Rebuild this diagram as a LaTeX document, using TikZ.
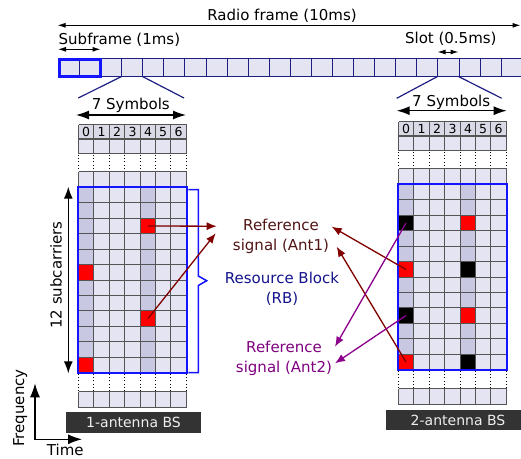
\documentclass[tikz,border=0pt]{standalone}
\usepackage{fontspec}
\setmainfont{DejaVu Sans}
\usetikzlibrary{arrows.meta,calc}
\definecolor{navy}{RGB}{30,30,130}
\definecolor{rbblue}{RGB}{20,20,255}
\definecolor{cellfill}{RGB}{228,228,242}
\definecolor{hdrfill}{RGB}{218,218,230}
\definecolor{darkcol}{RGB}{200,200,226}
\definecolor{gridgray}{RGB}{85,85,85}
\definecolor{sigred}{RGB}{255,0,0}
\definecolor{darkred}{RGB}{128,0,0}
\definecolor{antonetext}{RGB}{80,20,20}
\definecolor{purplearr}{RGB}{140,0,140}
\definecolor{purpletext}{RGB}{128,0,128}
\definecolor{rbtext}{RGB}{20,20,140}
\definecolor{boxgray}{RGB}{51,51,51}
\definecolor{boxtext}{RGB}{238,238,238}
\tikzset{
  txt/.style={font=\fontsize{15}{20}\selectfont, inner sep=0pt},
  numtxt/.style={font=\fontsize{12.5}{14}\selectfont, inner sep=0pt},
  barline/.style={draw=navy, line width=1.2pt},
  gline/.style={draw=gridgray, line width=1.25pt},
  zoomline/.style={draw=navy, line width=1.2pt},
  rbborder/.style={draw=rbblue, line width=2pt},
  dimarrow/.style={{Latex[length=8pt,width=5pt]}-{Latex[length=8pt,width=5pt]}, line width=1pt},
  bigarrow/.style={{Latex[length=13pt,width=9pt]}-{Latex[length=13pt,width=9pt]}, line width=1.3pt},
  axarrow/.style={{Latex[length=14pt,width=10pt]}-{Latex[length=14pt,width=10pt]}, line width=1.3pt},
  sigarrow/.style={-{Latex[length=10pt,width=8pt]}, line width=1.3pt},
  dotline/.style={line width=1pt, dash pattern=on 1pt off 2.2pt},
  bslabel/.style={fill=boxgray, text=boxtext, font=\fontsize{14}{16}\selectfont, minimum height=20.5pt, inner sep=0pt},
}
% column boundary c -> round(c*15.4)+0.5 ; RB row boundary r -> round(63+r*15.4167)+0.5
\newcommand{\rbgrid}[4]{%
\begin{scope}[shift={(#1,#2)}]
  \fill[hdrfill] (0.5,0.5) rectangle (108.5,15);
  \fill[cellfill] (0.5,15) rectangle (108.5,29.5);
  \fill[cellfill] (0.5,47.5) rectangle (108.5,63.5);
  \fill[cellfill] (0.5,267.5) rectangle (108.5,283.5);
  \fill[cellfill] (0.5,63.5) rectangle (108.5,248.5);
  \fill[darkcol] (0.5,63.5) rectangle (15.5,248.5);
  \fill[darkcol] (62.5,63.5) rectangle (77.5,248.5);
  \foreach \r/\c/\col in {#4} {
    \pgfmathsetmacro{\xa}{round(\c*15.4)+0.5}
    \pgfmathsetmacro{\xb}{round((\c+1)*15.4)+0.5}
    \pgfmathsetmacro{\ya}{round(63+\r*15.4167)+0.5}
    \pgfmathsetmacro{\yb}{round(63+(\r+1)*15.4167)+0.5}
    \fill[\col] (\xa,\ya) rectangle (\xb,\yb);
    \coordinate (#3-\r-\c) at ({(\xa+\xb)/2},{(\ya+\yb)/2});
  }
  \foreach \y in {0.5,15,29.5,47.5,63.5,267.5,283.5} {
    \draw[gline] (0.5,\y) -- (108.5,\y);
  }
  \foreach \r in {1,...,11} {
    \pgfmathsetmacro{\yy}{round(63+\r*15.4167)+0.5}
    \draw[gline] (0.5,\yy) -- (108.5,\yy);
  }
  \foreach \c in {0,...,7} {
    \pgfmathsetmacro{\xx}{round(\c*15.4)+0.5}
    \draw[gline] (\xx,0.5) -- (\xx,29.5);
    \draw[gline] (\xx,47.5) -- (\xx,63.5);
    \draw[gline] (\xx,267.5) -- (\xx,283.5);
    \draw[gline] (\xx,63.5) -- (\xx,248.5);
    \draw[dotline] (\xx,31) -- (\xx,46.5);
    \draw[dotline] (\xx,250) -- (\xx,266.5);
  }
  \foreach \c in {0,...,6} {
    \pgfmathsetmacro{\xa}{round(\c*15.4)+0.5}
    \pgfmathsetmacro{\xb}{round((\c+1)*15.4)+0.5}
    \node[numtxt] (#3n\c) at ({(\xa+\xb)/2},8.2) {\c};
  }
  \draw[rbborder] (0,63) rectangle (109,249);
\end{scope}}
\begin{document}
\begin{tikzpicture}[x=1pt,y=-1pt]
\useasboundingbox (0,0) rectangle (521,458);
\clip (0,0) rectangle (521,458);

% top bar
\fill[cellfill] (58,58) rectangle (540,76.5);
\draw[barline] (58,58.5) -- (540,58.5);
\draw[barline] (58,76.5) -- (540,76.5);
\foreach \i in {0,...,23} {
  \pgfmathsetmacro{\bx}{round(58+\i*21.08)+0.5}
  \draw[barline] (\bx,58.5) -- (\bx,76.5);
}
\draw[draw=rbblue, line width=3pt] (59.5,59.5) rectangle (100,76);

% zoom lines
\coordinate (zl1) at (121.5,76.5);
\coordinate (zl2) at (142.5,76.5);
\coordinate (zl3) at (78.3,98);
\coordinate (zl4) at (184,98);
\draw[zoomline] (zl1) -- (zl3);
\draw[zoomline] (zl2) -- (zl4);
\coordinate (zr1) at (437.5,76.5);
\coordinate (zr2) at (458.5,76.5);
\coordinate (zr3) at (396.7,98.3);
\coordinate (zr4) at (501.7,98.3);
\draw[zoomline] (zr1) -- (zr3);
\draw[zoomline] (zr2) -- (zr4);

% dimension arrows
\coordinate (rfL) at (57.5,25.3);
\coordinate (rfR) at (520.5,25.3);
\draw[dimarrow] (rfL) -- (rfR);
\coordinate (sfL) at (58,49.3);
\coordinate (sfR) at (100.5,49.3);
\draw[dimarrow] (sfL) -- (sfR);
\coordinate (slL) at (437.5,52);
\coordinate (slR) at (458.5,52);
\draw[dimarrow] (slL) -- (slR);
\coordinate (s1L) at (76,115);
\coordinate (s1R) at (186,115);
\draw[bigarrow] (s1L) -- (s1R);
\coordinate (s2L) at (396.7,110.7);
\coordinate (s2R) at (506.7,110.7);
\draw[bigarrow] (s2L) -- (s2R);

\node[txt, anchor=base] (radio) at (282,20.7) {Radio frame (10ms)};
\node[txt, anchor=base west] (subf) at (58.5,44.5) {Subframe (1ms)};
\node[txt, anchor=base] (slot) at (450.8,43.5) {Slot (0.5ms)};
\node[txt, anchor=base] (sym1) at (130.8,109.3) {7 Symbols};
\node[txt, anchor=base] (sym2) at (451.2,106) {7 Symbols};

% grids
\rbgrid{78}{124}{L}{2/4/sigred,5/0/sigred,8/4/sigred,11/0/sigred}
\rbgrid{398}{121}{R}{2/0/black,2/4/sigred,5/0/sigred,5/4/black,8/0/black,8/4/sigred,11/0/sigred,11/4/black}

% 12 subcarriers
\coordinate (scT) at (68.3,186.7);
\coordinate (scB) at (68.3,373.3);
\draw[{Latex[length=12pt,width=9pt]}-{Latex[length=12pt,width=9pt]}, line width=1.3pt] (scT) -- (scB);
\node[txt, rotate=90, anchor=base] (sc) at (61.5,275) {12 subcarriers};

% brace
\draw[draw=rbblue, line width=1.5pt] (188.3,189.5) -- (198.3,189.5) -- (198.3,276) -- (206.7,280.7) -- (198.3,285.5) -- (198.3,372.5) -- (188.3,372.5);

% labels
\node[txt, align=center, text=antonetext] (ant1) at (281,236.5) {Reference\\signal (Ant1)};
\node[txt, align=center, text=rbtext] (rb) at (282,289.1) {Resource Block\\(RB)};
\node[txt, align=center, text=purpletext] (ant2) at (284,358.3) {Reference\\signal (Ant2)};

% signal arrows
\coordinate (tA) at (216.7,226.2);
\coordinate (tB) at (215.7,233.3);
\coordinate (tC) at (331.7,226.7);
\coordinate (tD) at (336.7,246.7);
\coordinate (tE) at (335,346.7);
\coordinate (tF) at (335,363.3);
\draw[sigarrow, draw=darkred, fill=darkred] (L-2-4) -- (tA);
\draw[sigarrow, draw=darkred, fill=darkred] (L-8-4) -- (tB);
\draw[sigarrow, draw=darkred, fill=darkred] (R-5-0) -- (tC);
\draw[sigarrow, draw=darkred, fill=darkred] (R-11-0) -- (tD);
\draw[sigarrow, draw=purplearr, fill=purplearr] (R-2-0) -- (tE);
\draw[sigarrow, draw=purplearr, fill=purplearr] (R-8-0) -- (tF);

% BS labels
\node[bslabel, minimum width=135pt] (bs1) at (133.5,422.5) {1-antenna BS};
\node[bslabel, minimum width=144pt] (bs2) at (458,420) {2-antenna BS};

% axes
\coordinate (axF) at (35,383.3);
\coordinate (ax0) at (35,439.3);
\coordinate (axT) at (82,439.3);
\draw[axarrow] (axF) -- (ax0) -- (axT);
\node[txt, rotate=90, anchor=base] (freq) at (24,408) {Frequency};
\node[txt, anchor=base] (time) at (65.3,455) {Time};
\end{tikzpicture}
\end{document}
